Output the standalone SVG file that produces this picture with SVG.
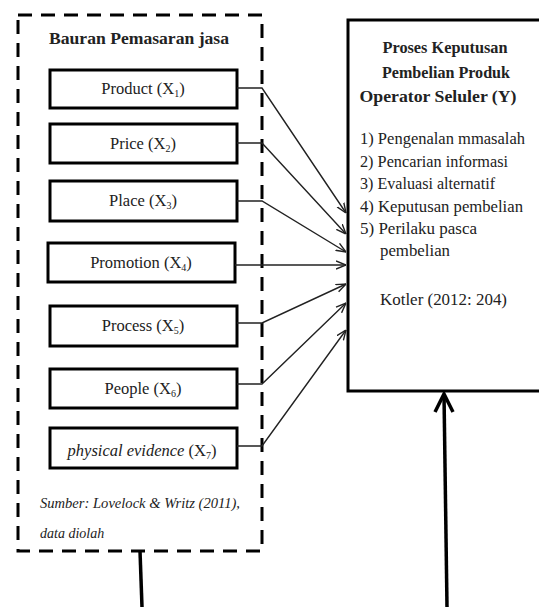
<svg xmlns="http://www.w3.org/2000/svg" width="539" height="607" viewBox="0 0 539 607">
<style>
  .bg { fill: #ffffff; }
  .box { fill: #ffffff; stroke: #000; stroke-width: 3; }
  .dash { fill: none; stroke: #000; stroke-width: 3; stroke-dasharray: 14 9; }
  .conn { fill: none; stroke: #222; stroke-width: 1.4; }
  .thick { fill: none; stroke: #000; stroke-width: 3.5; }
  text { font-family: "Liberation Serif", "Times New Roman", serif; fill: #222; }
  .lbl { font-size: 16.5px; text-anchor: middle; }
  .title { font-size: 17px; font-weight: bold; text-anchor: middle; }
  .item { font-size: 16.5px; }
  .src { font-size: 14px; font-style: italic; }
  .sub { font-size: 10px; }
</style>
<defs>
  <marker id="arr" viewBox="0 0 10 10" refX="10" refY="5" markerWidth="10" markerHeight="10" markerUnits="userSpaceOnUse" orient="auto">
    <path d="M0,1 L10,5 L0,9" fill="none" stroke="#222" stroke-width="1.4"/>
  </marker>
</defs>
<rect class="bg" x="0" y="0" width="539" height="607"/>

<g id="group-bauran">
  <rect class="dash" x="18" y="15" width="244" height="536"/>
  <text class="title" x="139" y="44" font-size="18" textLength="180" lengthAdjust="spacingAndGlyphs">Bauran Pemasaran jasa</text>
  <text class="src" x="40" y="508" textLength="200" lengthAdjust="spacingAndGlyphs">Sumber: Lovelock &amp; Writz (2011),</text>
  <text class="src" x="40" y="538">data diolah</text>
</g>

<g id="node-product">
  <rect class="box" x="50" y="70" width="187" height="38"/>
  <text class="lbl" x="143" y="94">Product (X<tspan class="sub" dy="3">1</tspan><tspan dy="-3">)</tspan></text>
</g>
<g id="node-price">
  <rect class="box" x="50" y="124" width="187" height="39"/>
  <text class="lbl" x="143" y="149">Price (X<tspan class="sub" dy="3">2</tspan><tspan dy="-3">)</tspan></text>
</g>
<g id="node-place">
  <rect class="box" x="50" y="181" width="187" height="40"/>
  <text class="lbl" x="143" y="206">Place (X<tspan class="sub" dy="3">3</tspan><tspan dy="-3">)</tspan></text>
</g>
<g id="node-promotion">
  <rect class="box" x="48" y="243" width="187" height="39"/>
  <text class="lbl" x="141" y="268">Promotion (X<tspan class="sub" dy="3">4</tspan><tspan dy="-3">)</tspan></text>
</g>
<g id="node-process">
  <rect class="box" x="50" y="306" width="187" height="40"/>
  <text class="lbl" x="143" y="331">Process (X<tspan class="sub" dy="3">5</tspan><tspan dy="-3">)</tspan></text>
</g>
<g id="node-people">
  <rect class="box" x="50" y="369" width="187" height="39"/>
  <text class="lbl" x="143" y="394">People (X<tspan class="sub" dy="3">6</tspan><tspan dy="-3">)</tspan></text>
</g>
<g id="node-physical">
  <rect class="box" x="50" y="428" width="187" height="40"/>
  <text class="lbl" x="142" y="456"><tspan font-style="italic">physical evidence</tspan> (X<tspan class="sub" dy="3">7</tspan><tspan dy="-3">)</tspan></text>
</g>

<g id="node-keputusan">
  <rect class="box" x="348" y="20" width="200" height="371"/>
  <text class="title" x="445" y="53" textLength="125" lengthAdjust="spacingAndGlyphs">Proses Keputusan</text>
  <text class="title" x="446" y="78" textLength="128" lengthAdjust="spacingAndGlyphs">Pembelian Produk</text>
  <text class="title" x="438" y="102" textLength="157" lengthAdjust="spacingAndGlyphs">Operator Seluler (Y)</text>
  <text class="item" x="360" y="144" textLength="165" lengthAdjust="spacingAndGlyphs">1) Pengenalan mmasalah</text>
  <text class="item" x="360" y="167" textLength="148" lengthAdjust="spacingAndGlyphs">2) Pencarian informasi</text>
  <text class="item" x="360" y="189" textLength="135" lengthAdjust="spacingAndGlyphs">3) Evaluasi alternatif</text>
  <text class="item" x="360" y="212" textLength="163" lengthAdjust="spacingAndGlyphs">4) Keputusan pembelian</text>
  <text class="item" x="360" y="234" textLength="117" lengthAdjust="spacingAndGlyphs">5) Perilaku pasca</text>
  <text class="item" x="380" y="256" textLength="70" lengthAdjust="spacingAndGlyphs">pembelian</text>
  <text class="item" x="380" y="305" textLength="127" lengthAdjust="spacingAndGlyphs">Kotler (2012: 204)</text>
</g>

<g id="connectors">
  <path class="conn" d="M237,88 H262 L346,213" marker-end="url(#arr)"/>
  <path class="conn" d="M237,143 H262 L346,234" marker-end="url(#arr)"/>
  <path class="conn" d="M237,201 H262 L346,252" marker-end="url(#arr)"/>
  <path class="conn" d="M235,265 H346" marker-end="url(#arr)"/>
  <path class="conn" d="M237,323 H262 L346,284" marker-end="url(#arr)"/>
  <path class="conn" d="M237,384 H262 L346,303" marker-end="url(#arr)"/>
  <path class="conn" d="M237,446 H262 L346,330" marker-end="url(#arr)"/>
  <path class="thick" d="M140,551 L142,607"/>
  <path class="thick" d="M447,607 L444,394"/>
  <path class="thick" d="M435,412 L444,394 L453,412"/>
</g>
</svg>
